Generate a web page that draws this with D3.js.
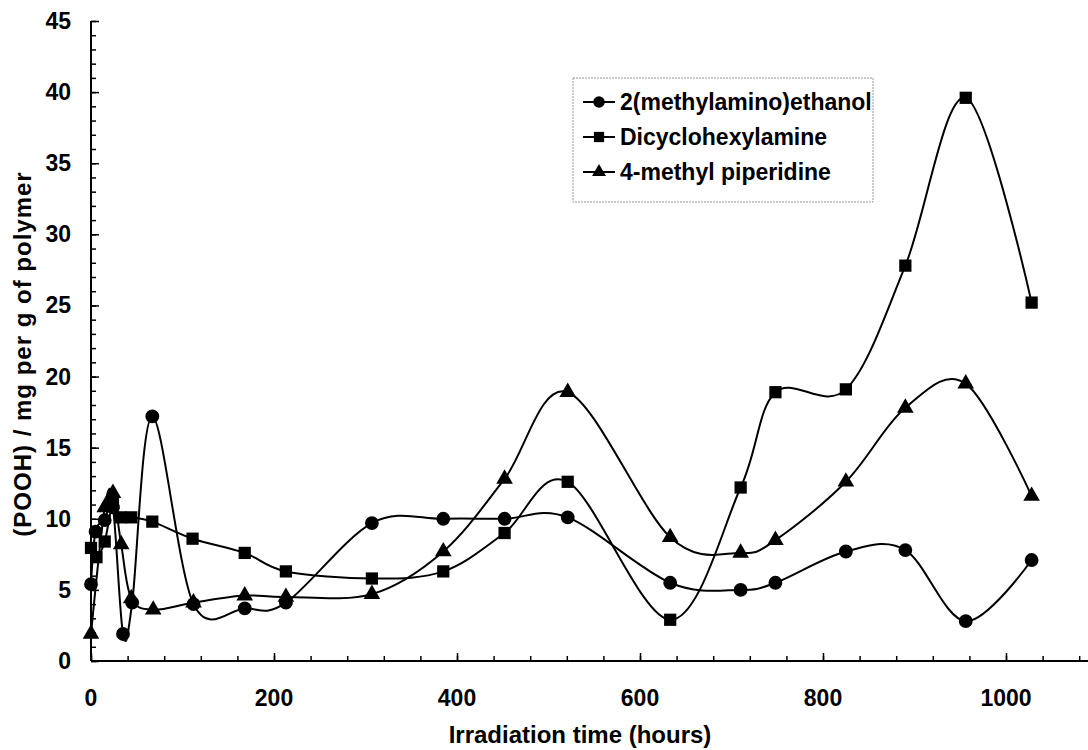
<!DOCTYPE html>
<html>
<head>
<meta charset="utf-8">
<script src="https://cdn.jsdelivr.net/npm/d3@7"></script>
<style>
  body { margin: 0; background: #fff; }
  text { font-family: "Liberation Sans", Arial, sans-serif; font-weight: bold; }
</style>
</head>
<body>
<svg id="drawing_region"></svg>
<script>
// irradiation times (hours) and POOH values per series
const seriesNames = ['2(methylamino)ethanol', 'Dicyclohexylamine', '4-methyl piperidine'];

const timesMAE = [0, 5, 15, 24, 35, 45, 67, 112, 168, 213, 307, 385, 452, 521, 633, 710, 748, 825, 890, 956, 1028];
const valuesMAE = [5.4, 9.1, 9.9, 10.8, 1.9, 4.1, 17.2, 4.0, 3.7, 4.1, 9.7, 10.0, 10.0, 10.1, 5.5, 5.0, 5.5, 7.7, 7.8, 2.8, 7.1];

const timesDCHA = [0, 6, 15, 24, 32, 44, 67, 111, 168, 213, 307, 385, 452, 521, 633, 710, 748, 825, 890, 956, 1028];
const valuesDCHA = [7.95, 7.3, 8.4, 11.1, 10.1, 10.1, 9.8, 8.6, 7.6, 6.3, 5.8, 6.3, 9.0, 12.6, 2.9, 12.2, 18.9, 19.1, 27.8, 39.6, 25.2];

const timesMP = [0, 15, 24, 33, 44, 68, 112, 168, 213, 307, 385, 452, 521, 633, 710, 748, 825, 890, 956, 1028];
const valuesMP = [1.9, 10.8, 11.8, 8.2, 4.4, 3.6, 4.1, 4.6, 4.5, 4.7, 7.7, 12.8, 18.9, 8.7, 7.6, 8.5, 12.6, 17.8, 19.5, 11.6];

const xTicks = [0, 200, 400, 600, 800, 1000];
const yTicks = [0, 5, 10, 15, 20, 25, 30, 35, 40, 45];

const config = {
    width: 1088,
    height: 750,
    x0: 91, x1: 1097.5,
    y0: 661, y1: 21
};

const svg = d3.select('#drawing_region')
    .attr('width', config.width)
    .attr('height', config.height);

const xscale = d3.scaleLinear().domain([0, 1100]).range([config.x0, config.x1]);
const yscale = d3.scaleLinear().domain([0, 45]).range([config.y0, config.y1]);

// axes: ticks point inward, minor ticks between majors
const xaxis_group = svg.append('g').attr('transform', `translate(0, ${config.y0})`);
xaxis_group.call(d3.axisBottom(xscale).tickValues(d3.range(0, 1101, 40)).tickSize(-5).tickFormat(''));
xaxis_group.append('g').call(d3.axisBottom(xscale).tickValues(xTicks).tickSize(-8).tickFormat(''));
xaxis_group.selectAll('path.domain').attr('d', `M${config.x0},0H${config.x1}`);

const yaxis_group = svg.append('g').attr('transform', `translate(${config.x0}, 0)`);
yaxis_group.call(d3.axisLeft(yscale).tickValues(d3.range(0, 46, 1)).tickSize(-5).tickFormat(''));
yaxis_group.append('g').call(d3.axisLeft(yscale).tickValues(yTicks).tickSize(-8).tickFormat(''));
yaxis_group.selectAll('path.domain').attr('d', `M0,${config.y1}V${config.y0}`);

svg.selectAll('.domain').attr('stroke', '#000').attr('stroke-width', 2);
svg.selectAll('.tick line').attr('stroke', '#000').attr('stroke-width', 1.5);

svg.append('g').selectAll('text')
    .data(xTicks)
    .join('text')
    .attr('x', d => xscale(d))
    .attr('y', 706)
    .attr('text-anchor', 'middle')
    .attr('font-size', 23)
    .text(d => d);

svg.append('g').selectAll('text')
    .data(yTicks)
    .join('text')
    .attr('x', 71)
    .attr('y', d => yscale(d) + 8)
    .attr('text-anchor', 'end')
    .attr('font-size', 23)
    .text(d => d);

svg.append('text')
    .attr('text-anchor', 'middle')
    .attr('transform', `translate(580, 743)`)
    .attr('font-size', 24)
    .text('Irradiation time (hours)');

svg.append('text')
    .attr('text-anchor', 'middle')
    .attr('transform', `translate(31, 354) rotate(-90)`)
    .attr('font-size', 24)
    .attr('letter-spacing', 1)
    .text('(POOH) / mg per g of polymer');

// lines and markers
const series = [
    {name: seriesNames[0], data: timesMAE.map((t, i) => ({x: t, y: valuesMAE[i]})), symbol: d3.symbolCircle, size: 150},
    {name: seriesNames[1], data: timesDCHA.map((t, i) => ({x: t, y: valuesDCHA[i]})), symbol: d3.symbolSquare, size: 150},
    {name: seriesNames[2], data: timesMP.map((t, i) => ({x: t, y: valuesMP[i]})), symbol: d3.symbolTriangle, size: 120}
];

const line = d3.line()
    .x(d => xscale(d.x))
    .y(d => yscale(d.y))
    .curve(d3.curveCardinal.tension(0));

const chart = svg.append('g');

series.forEach(s => {
    chart.append('path')
        .datum(s.data)
        .attr('fill', 'none')
        .attr('stroke', '#000')
        .attr('stroke-width', 2)
        .attr('d', line);
});

series.forEach(s => {
    chart.append('g').selectAll('path')
        .data(s.data)
        .join('path')
        .attr('transform', d => `translate(${xscale(d.x)}, ${yscale(d.y)})`)
        .attr('d', d3.symbol().type(s.symbol).size(s.size))
        .attr('fill', '#000');
});

// legend
const legend = svg.append('g').attr('transform', 'translate(573, 78)');
legend.append('rect')
    .attr('width', 300)
    .attr('height', 124)
    .attr('fill', '#fff')
    .attr('stroke', '#999')
    .attr('stroke-width', 1)
    .attr('stroke-dasharray', '2,1');

series.forEach((s, i) => {
    const row = legend.append('g').attr('transform', `translate(0, ${24 + i * 35})`);
    row.append('line')
        .attr('x1', 10).attr('x2', 42)
        .attr('stroke', '#000').attr('stroke-width', 2);
    row.append('path')
        .attr('transform', 'translate(26, 0)')
        .attr('d', d3.symbol().type(s.symbol).size(s.size * 0.7))
        .attr('fill', '#000');
    row.append('text')
        .attr('x', 47)
        .attr('y', 8)
        .attr('font-size', 23)
        .text(s.name);
});
</script>
</body>
</html>
